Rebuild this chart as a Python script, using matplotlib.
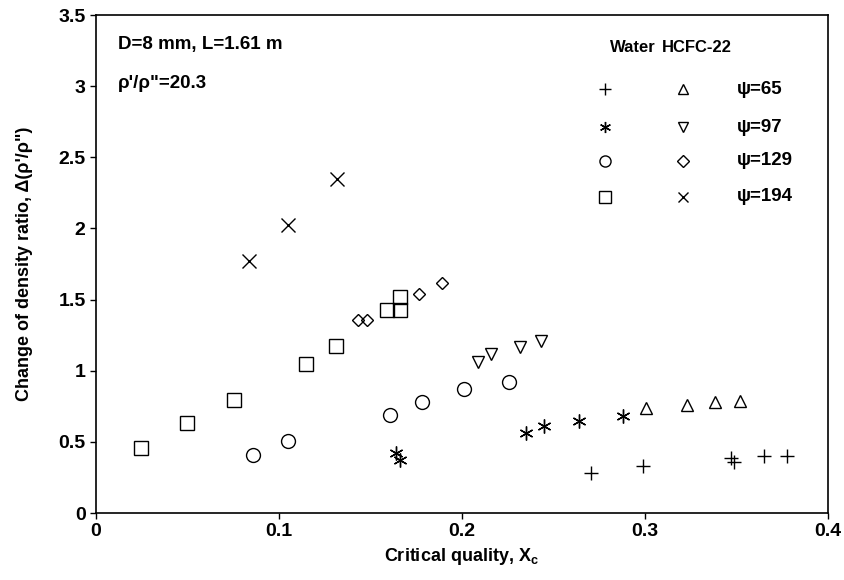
import numpy as np
import matplotlib.pyplot as plt

plt.rcParams['font.family'] = ['Liberation Sans', 'DejaVu Sans']
plt.rcParams['font.weight'] = 'bold'
plt.rcParams['axes.labelweight'] = 'bold'
plt.rcParams['mathtext.fontset'] = 'custom'
plt.rcParams['mathtext.rm'] = 'Liberation Sans:bold'
plt.rcParams['mathtext.it'] = 'Liberation Sans:bold'
plt.rcParams['mathtext.default'] = 'rm'

# water, psi=65 (+)
w65_x = [0.2705, 0.299, 0.347, 0.349, 0.365, 0.378]
w65_y = [0.28, 0.33, 0.39, 0.36, 0.40, 0.40]
# water, psi=97 (asterisk)
w97_x = [0.164, 0.166, 0.235, 0.245, 0.264, 0.288]
w97_y = [0.42, 0.37, 0.56, 0.61, 0.65, 0.68]
# water, psi=129 (circle)
w129_x = [0.086, 0.105, 0.161, 0.178, 0.201, 0.226]
w129_y = [0.41, 0.505, 0.69, 0.78, 0.875, 0.92]
# water, psi=194 (square)
w194_x = [0.0244, 0.050, 0.0754, 0.115, 0.131, 0.159, 0.166, 0.166]
w194_y = [0.455, 0.63, 0.795, 1.047, 1.174, 1.425, 1.43, 1.515]

# HCFC-22, psi=65 (triangle up)
h65_x = [0.3005, 0.323, 0.3386, 0.352]
h65_y = [0.74, 0.757, 0.78, 0.79]
# HCFC-22, psi=97 (triangle down)
h97_x = [0.209, 0.216, 0.2317, 0.2435]
h97_y = [1.063, 1.12, 1.17, 1.21]
# HCFC-22, psi=129 (diamond)
h129_x = [0.1434, 0.148, 0.1765, 0.189]
h129_y = [1.36, 1.36, 1.54, 1.618]
# HCFC-22, psi=194 (x)
h194_x = [0.0836, 0.105, 0.1315]
h194_y = [1.773, 2.024, 2.347]

psi_labels = ['ψ=65', 'ψ=97', 'ψ=129', 'ψ=194']
water_markers = ['+', (6, 2, 0), 'o', 's']
hcfc_markers = ['^', 'v', 'D', 'x']

fig = plt.figure(figsize=(8.44, 5.80), dpi=100)
ax = fig.add_axes([0.1137, 0.1155, 0.867, 0.8586])

kw = dict(linestyle='none', color='black', markerfacecolor='none', markeredgewidth=1.0)
ax.plot(w65_x, w65_y, marker='+', markersize=10, **kw)
ax.plot(w97_x, w97_y, marker=(6, 2, 0), markersize=10, **kw)
ax.plot(w129_x, w129_y, marker='o', markersize=10, **kw)
ax.plot(w194_x, w194_y, marker='s', markersize=10, **kw)
ax.plot(h65_x, h65_y, marker='^', markersize=8, **kw)
ax.plot(h97_x, h97_y, marker='v', markersize=8, **kw)
ax.plot(h129_x, h129_y, marker='D', markersize=6, **kw)
ax.plot(h194_x, h194_y, marker='x', markersize=10, **kw)

# legend built by hand
rows = [0.851, 0.775, 0.707, 0.635]
ax.text(0.703, 0.934, 'Water', transform=ax.transAxes, fontsize=12, va='center')
ax.text(0.773, 0.934, 'HCFC-22', transform=ax.transAxes, fontsize=12, va='center')
for yy, lab, wm, hm in zip(rows, psi_labels, water_markers, hcfc_markers):
    ax.plot([0.695], [yy], marker=wm, markersize=8, transform=ax.transAxes, **kw)
    ax.plot([0.802], [yy], marker=hm, markersize=7 if hm != 'D' else 6, transform=ax.transAxes, **kw)
    ax.text(0.876, yy, lab, transform=ax.transAxes, fontsize=13.5, va='center')

ax.text(0.03, 0.94, 'D=8 mm, L=1.61 m', transform=ax.transAxes, fontsize=13.5, va='center')
ax.text(0.03, 0.862, 'ρ\'/ρ"=20.3', transform=ax.transAxes, fontsize=13.5, va='center')

ax.set_xlim(0, 0.4)
ax.set_ylim(0, 3.5)
ax.set_xticks([0, 0.1, 0.2, 0.3, 0.4])
ax.set_xticklabels(['0', '0.1', '0.2', '0.3', '0.4'])
ax.set_yticks(np.arange(0, 3.51, 0.5))
ax.set_yticklabels(['0', '0.5', '1', '1.5', '2', '2.5', '3', '3.5'])
ax.tick_params(direction='out', length=4, width=1, labelsize=14)
ax.set_xlabel('Critical quality, $X_c$', fontsize=13)
ax.set_ylabel('Change of density ratio, Δ(ρ\'/ρ")', fontsize=13, labelpad=18)
for s in ax.spines.values():
    s.set_linewidth(1.2)

plt.savefig('out.png', dpi=100)
